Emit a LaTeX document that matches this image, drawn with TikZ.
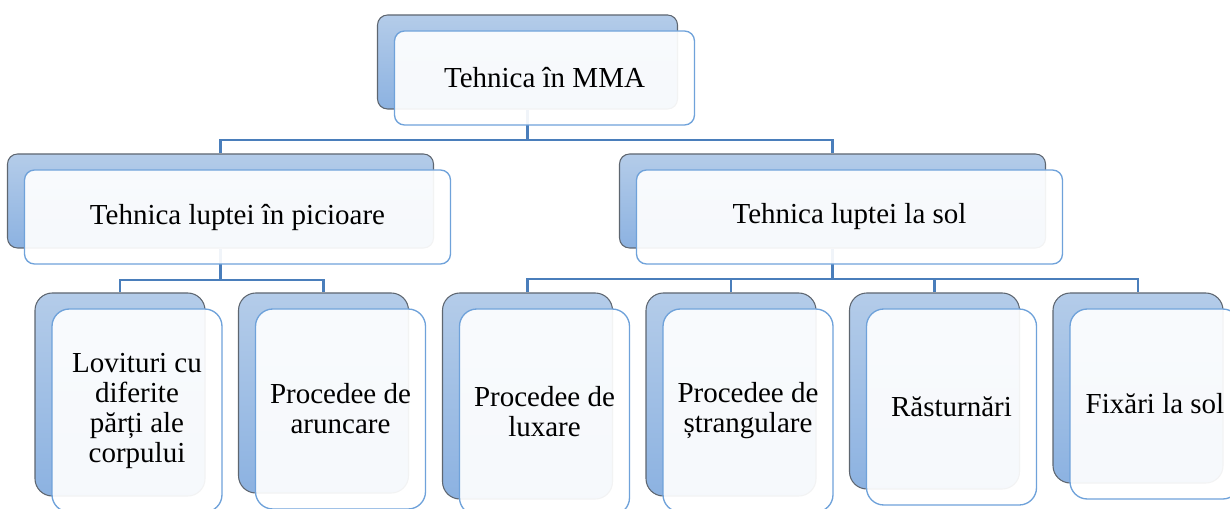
\documentclass[tikz,border=0pt]{standalone}
\usepackage{fontspec}
\setmainfont{Liberation Serif}
\usetikzlibrary{backgrounds}
\definecolor{backtop}{HTML}{B4CCE9}
\definecolor{backbottom}{HTML}{8CB2E1}
\definecolor{backline}{HTML}{5E6670}
\definecolor{frontfill}{HTML}{FFFFFF}
\definecolor{frontline}{HTML}{6FA2DA}
\definecolor{linkline}{HTML}{4A7EBB}
\tikzstyle{back} = [rectangle, rounded corners=7.5pt, inner sep=0pt, draw=backline, line width=0.8pt, top color=backtop, bottom color=backbottom]
\tikzstyle{front} = [rectangle, rounded corners=7.5pt, inner sep=0pt, align=center, draw=frontline, line width=1pt, fill=frontfill, fill opacity=0.92, text opacity=1, font=\fontsize{21.75}{22.5}\selectfont]
\tikzstyle{rootsize} = [minimum width=225pt, minimum height=70.5pt]
\tikzstyle{groupsize} = [minimum width=319.5pt, minimum height=70.5pt]
\tikzstyle{leafsize} = [minimum width=127.5pt, rounded corners=13pt]
\tikzstyle{link} = [draw=linkline, line width=1.6pt]
\begin{document}
\begin{tikzpicture}[x=0.75pt, y=-0.75pt]
        \useasboundingbox (0,0) rectangle (1230,509);
        % Back boxes
        \node (rootB) [back, rootsize] at (527.5,62) {};
        \node (leftB) [back, groupsize] at (220.5,201) {};
        \node (rightB) [back, groupsize] at (832.5,201) {};
        \node (lovB) [back, leafsize, minimum height=152.25pt] at (120,394.5) {};
        \node (arunB) [back, leafsize, minimum height=150pt] at (323.5,393) {};
        \node (luxB) [back, leafsize, minimum height=154.5pt] at (527.5,396) {};
        \node (strangB) [back, leafsize, minimum height=152.25pt] at (731,394.5) {};
        \node (rastB) [back, leafsize, minimum height=147pt] at (934.5,391) {};
        \node (fixB) [back, leafsize, minimum height=142.5pt] at (1138,388) {};

        % Front boxes
        \node (rootF) [front, rootsize] at ([xshift=12.75pt, yshift=-12pt]rootB.center) {Tehnica în MMA};
        \node (leftF) [front, groupsize] at ([xshift=12.75pt, yshift=-12pt]leftB.center) {Tehnica luptei în picioare};
        \node (rightF) [front, groupsize] at ([xshift=12.75pt, yshift=-12pt]rightB.center) {Tehnica luptei la sol};
        \node (lovF) [front, leafsize, minimum height=152.25pt] at ([xshift=12.75pt, yshift=-12pt]lovB.center) {Lovituri cu\\diferite\\părți ale\\corpului};
        \node (arunF) [front, leafsize, minimum height=150pt] at ([xshift=12.75pt, yshift=-12pt]arunB.center) {Procedee de\\aruncare};
        \node (luxF) [front, leafsize, minimum height=154.5pt] at ([xshift=12.75pt, yshift=-12pt]luxB.center) {Procedee de\\luxare};
        \node (strangF) [front, leafsize, minimum height=152.25pt] at ([xshift=12.75pt, yshift=-12pt]strangB.center) {Procedee de\\ștrangulare};
        \node (rastF) [front, leafsize, minimum height=147pt] at ([xshift=12.75pt, yshift=-12pt]rastB.center) {Răsturnări};
        \node (fixF) [front, leafsize, minimum height=142.5pt] at ([xshift=12.75pt, yshift=-12pt]fixB.center) {Fixări la sol};

        % Links
        \begin{scope}[on background layer]
        \coordinate (busTop) at (527.5,140);
        \coordinate (busLeft) at (220.5,280);
        \coordinate (busRight) at (832.5,279);
        \draw [link] (leftB.north) |- (busTop) -| (rightB.north);
        \draw [link] (rootB.south) -- (busTop);
        \draw [link] (lovB.north) |- (busLeft) -| (arunB.north);
        \draw [link] (leftB.south) -- (busLeft);
        \draw [link] (luxB.north) |- (busRight) -| (fixB.north);
        \draw [link] (strangB.north) -- (strangB.north |- busRight);
        \draw [link] (rastB.north) -- (rastB.north |- busRight);
        \draw [link] (rightB.south) -- (busRight);
        \end{scope}
\end{tikzpicture}
\end{document}
